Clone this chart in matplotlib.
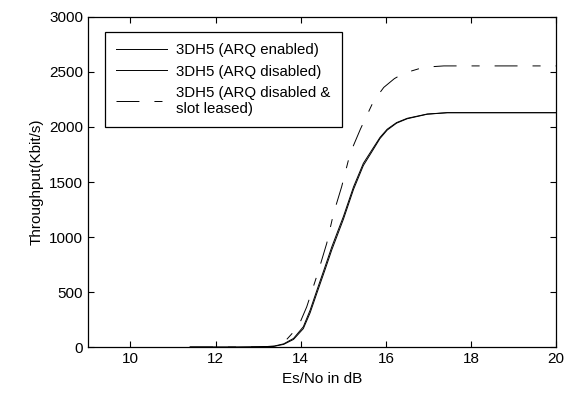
import numpy as np
import matplotlib.pyplot as plt

plt.rcParams['font.family'] = ['Liberation Sans', 'DejaVu Sans']
plt.rcParams['lines.scale_dashes'] = False

# values
snr_solid = [11.4, 12.5, 13.0, 13.36, 13.6, 13.83, 14.06, 14.22, 14.38, 14.57,
             14.73, 14.88, 15.0, 15.24, 15.47, 15.67, 15.86, 16.03, 16.25, 16.5,
             16.97, 17.44, 18.0, 19.0, 20.0]
arq_enabled = [0, 0, 2, 6, 25, 70, 168, 312, 492, 703,
               885, 1038, 1160, 1434, 1650, 1775, 1895, 1972, 2035, 2075,
               2116, 2130, 2130, 2130, 2130]
arq_disabled = [0, 0, 2, 8, 30, 79, 185, 336, 518, 730,
                912, 1064, 1185, 1457, 1670, 1791, 1905, 1980, 2040, 2079,
                2118, 2130, 2130, 2130, 2130]

snr_dash = [11.4, 12.5, 13.0, 13.36, 13.6, 13.94, 14.14, 14.41, 14.61, 14.77,
            14.96, 15.16, 15.40, 15.71, 15.95, 16.2, 16.42, 16.89, 17.36, 18.0,
            19.0, 20.0]
arq_disabled_leased = [0, 0, 2, 8, 40, 185, 366, 685, 943, 1215,
                       1457, 1761, 1980, 2235, 2360, 2440, 2488, 2543, 2555, 2555,
                       2555, 2555]

labels = ['3DH5 (ARQ enabled)', '3DH5 (ARQ disabled)',
          '3DH5 (ARQ disabled &\nslot leased)']

fig = plt.figure(figsize=(5.67, 3.94), dpi=100)
ax = fig.add_axes([0.155, 0.119, 0.826, 0.838])

ax.plot(snr_solid, arq_enabled, color='black', lw=0.7, label=labels[0])
ax.plot(snr_solid, arq_disabled, color='black', lw=0.7, label=labels[1])
ax.plot(snr_dash, arq_disabled_leased, color='black', lw=0.7,
        linestyle=(0, (16.5, 10.8, 5.8, 10.8)), label=labels[2])

ax.set_xlim(9, 20)
ax.set_ylim(0, 3000)
ax.set_xticks(np.arange(10, 21, 2))
ax.set_yticks(np.arange(0, 3001, 500))
ax.tick_params(direction='in', top=True, right=True, labelsize=11, length=4)
for s in ax.spines.values():
    s.set_linewidth(0.9)

ax.set_xlabel('Es/No in dB', fontsize=11)
ax.set_ylabel('Throughput(Kbit/s)', fontsize=11)

leg = ax.legend(loc='upper left', bbox_to_anchor=(0.036, 0.955), fontsize=10.8,
                fancybox=False, framealpha=1, edgecolor='black',
                handlelength=3.4, handletextpad=0.6, borderpad=0.75,
                labelspacing=0.5, borderaxespad=0)
leg.get_frame().set_linewidth(0.9)

fig.savefig('out.png', dpi=100)
